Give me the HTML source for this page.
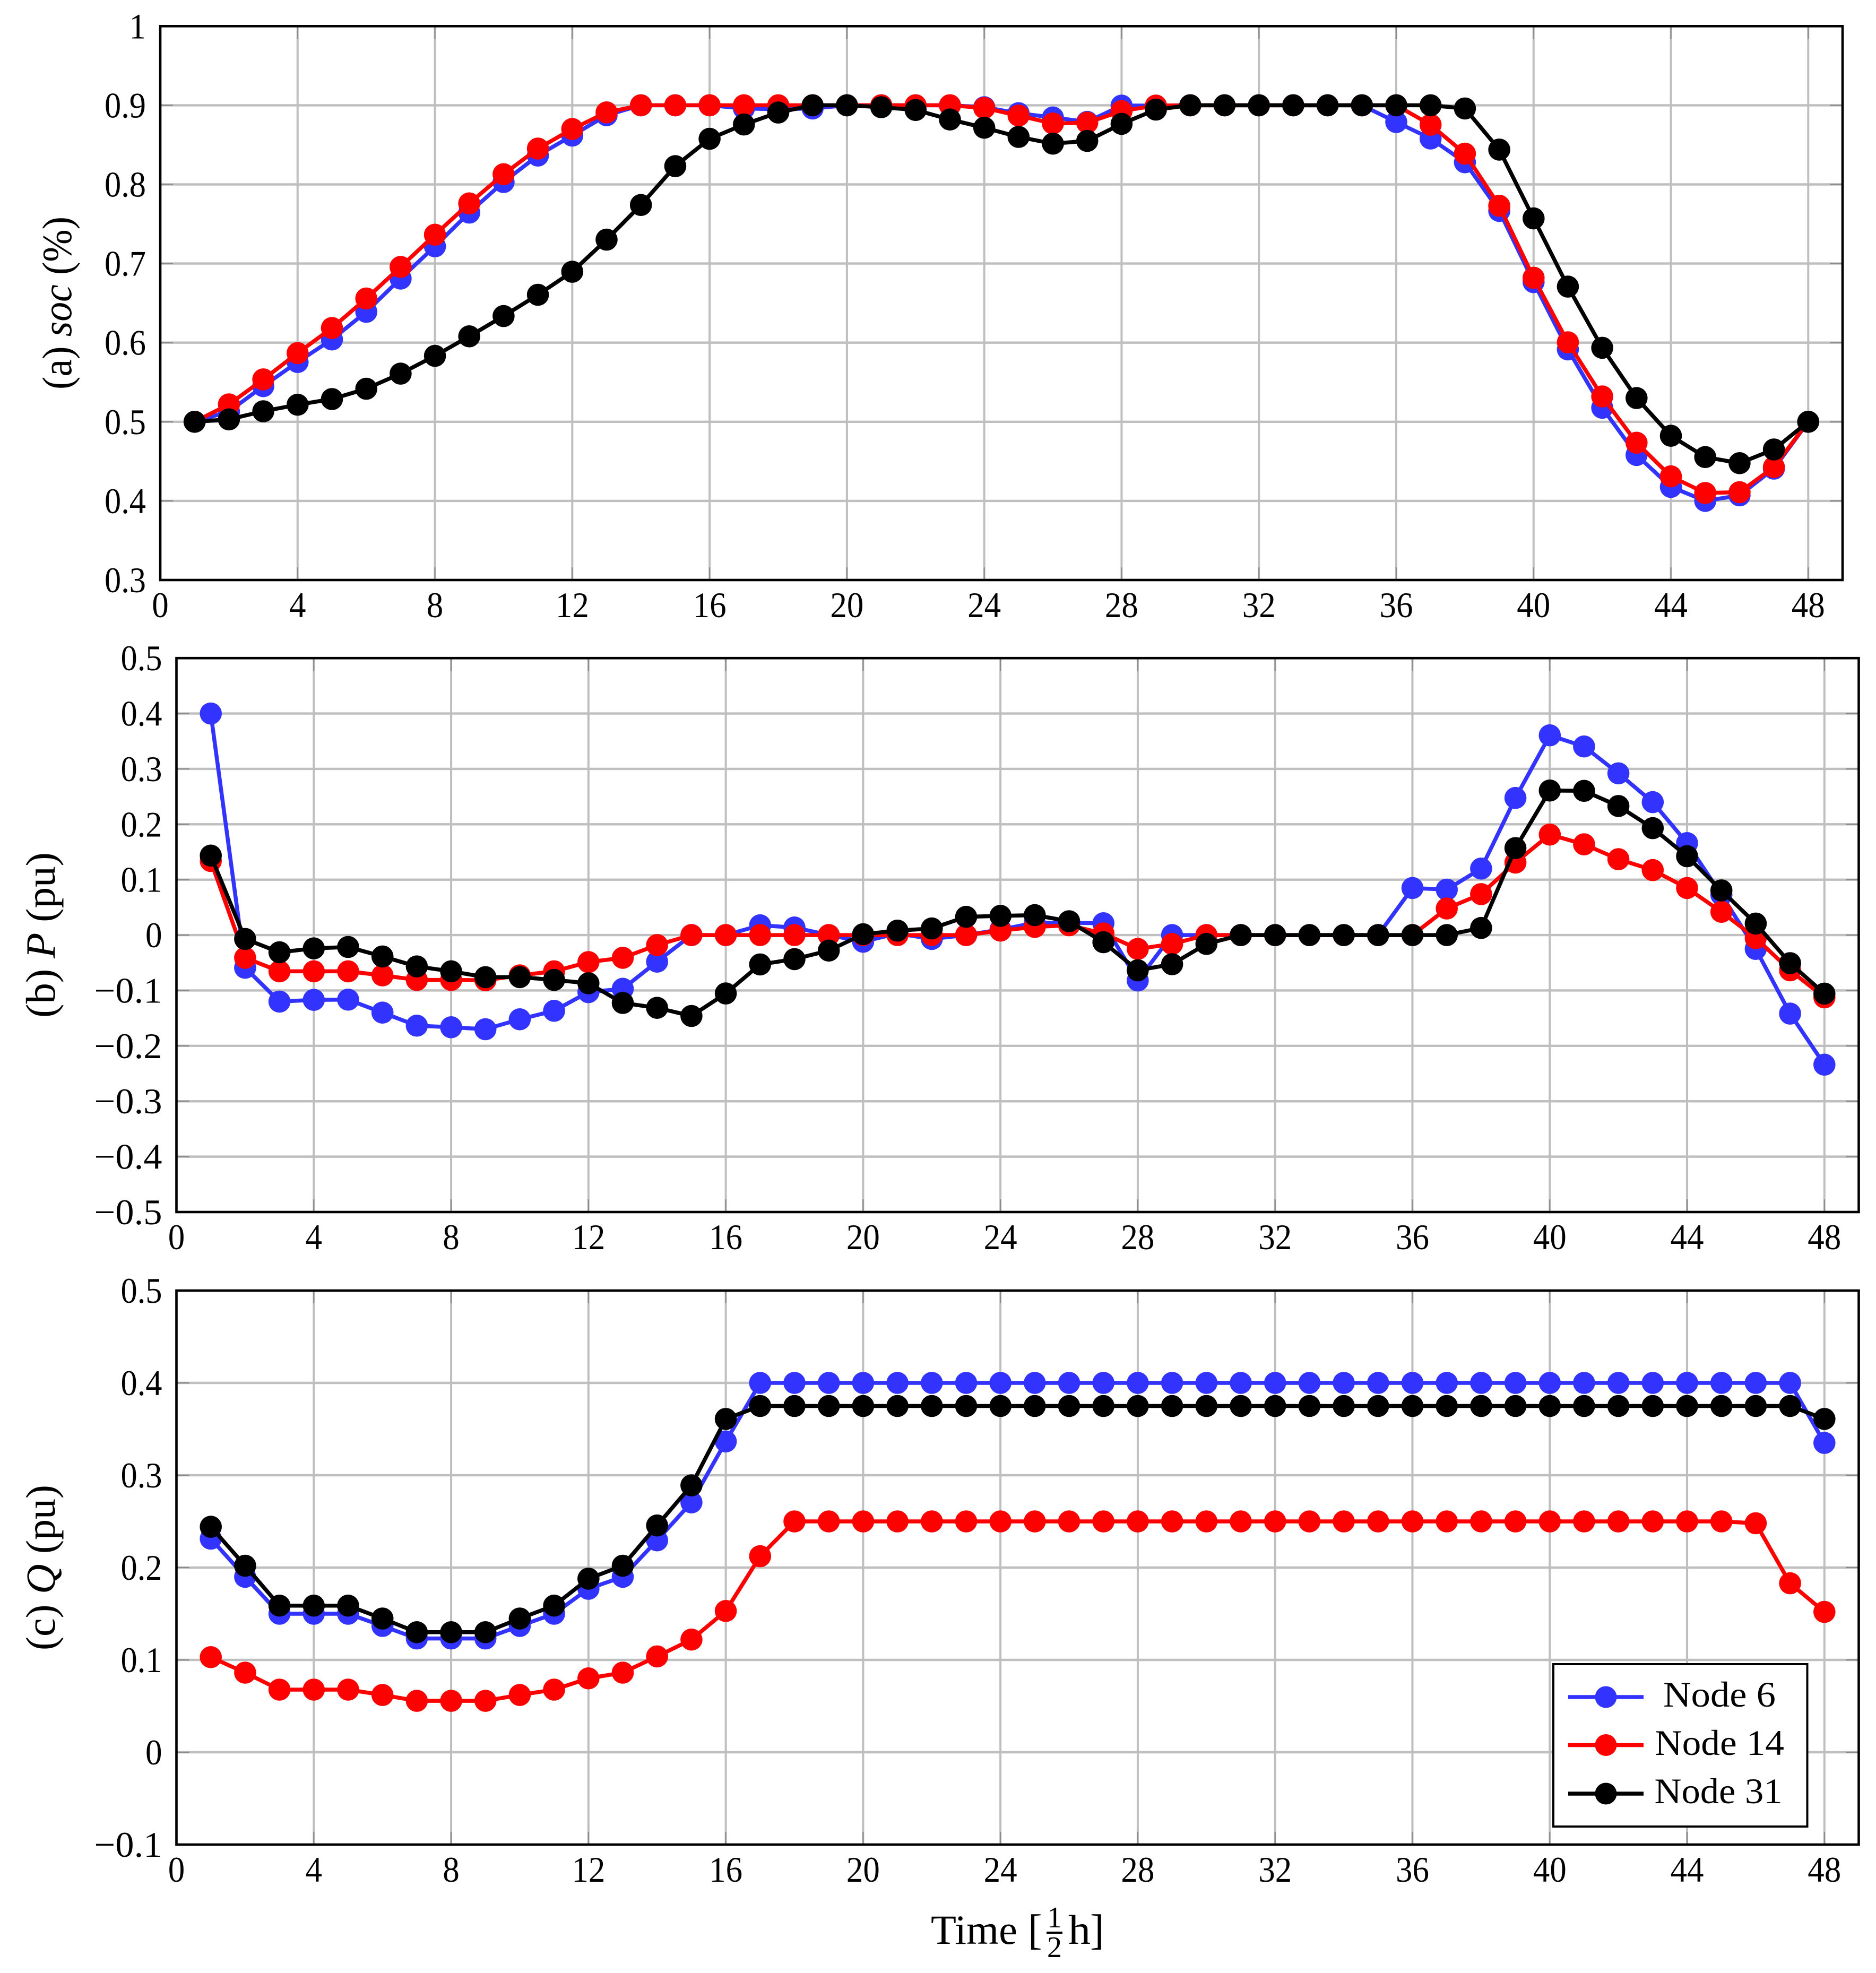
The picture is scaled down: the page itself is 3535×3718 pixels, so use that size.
<!DOCTYPE html>
<html lang="en">
<head>
<meta charset="utf-8">
<title>Node soc, P and Q over time</title>
<style>
html,body{margin:0;padding:0;background:#fff;width:3535px;height:3718px;overflow:hidden}
svg{display:block}
text{font-family:"Liberation Serif",serif;fill:#000}
</style>
</head>
<body>
<svg id="chart" xmlns="http://www.w3.org/2000/svg" width="3535" height="3718" viewBox="0 0 3535 3718">
  <rect x="0" y="0" width="3535" height="3718" fill="#fff"/>
  <g id="panels"></g>

  <text transform="translate(134 571) rotate(-90)" text-anchor="middle" font-size="78" textLength="326" lengthAdjust="spacingAndGlyphs">(a) <tspan font-style="italic">soc</tspan> (%)</text>
  <text transform="translate(103 1762) rotate(-90)" text-anchor="middle" font-size="78" textLength="312" lengthAdjust="spacingAndGlyphs">(b) <tspan font-style="italic">P</tspan> (pu)</text>
  <text transform="translate(103 2954) rotate(-90)" text-anchor="middle" font-size="78" textLength="312" lengthAdjust="spacingAndGlyphs">(c) <tspan font-style="italic">Q</tspan> (pu)</text>

  <g>
    <text x="1754" y="3663" font-size="78" textLength="163" lengthAdjust="spacingAndGlyphs">Time</text>
    <text x="1937" y="3663" font-size="80">[</text>
    <text x="1987" y="3632" font-size="56" text-anchor="middle">1</text>
    <rect x="1972" y="3640" width="30" height="4" fill="#000"/>
    <text x="1987" y="3688" font-size="56" text-anchor="middle">2</text>
    <text x="2013" y="3663" font-size="78" textLength="42" lengthAdjust="spacingAndGlyphs">h</text>
    <text x="2054" y="3663" font-size="80">]</text>
  </g>

  <g>
    <rect x="2927" y="3136" width="478.5" height="306" fill="#fff" stroke="#000" stroke-width="4"/>
    <g>
      <line x1="2955" y1="3198" x2="3097" y2="3198" stroke="#3333ff" stroke-width="7.5"/>
      <circle cx="3026" cy="3198" r="20.5" fill="#3333ff"/>
      <text x="3240" y="3216" font-size="68" text-anchor="middle" textLength="212" lengthAdjust="spacingAndGlyphs">Node 6</text>
    </g>
    <g>
      <line x1="2955" y1="3288.5" x2="3097" y2="3288.5" stroke="#ff0000" stroke-width="7.5"/>
      <circle cx="3026" cy="3288.5" r="20.5" fill="#ff0000"/>
      <text x="3240" y="3307" font-size="68" text-anchor="middle" textLength="244" lengthAdjust="spacingAndGlyphs">Node 14</text>
    </g>
    <g>
      <line x1="2955" y1="3380" x2="3097" y2="3380" stroke="#000" stroke-width="7.5"/>
      <circle cx="3026" cy="3380" r="20.5" fill="#000"/>
      <text x="3238" y="3398" font-size="68" text-anchor="middle" textLength="241" lengthAdjust="spacingAndGlyphs">Node 31</text>
    </g>
  </g>
</svg>

<script>
// x axis, shared by all panels
const timeSteps = [1,2,3,4,5,6,7,8,9,10,11,12,13,14,15,16,17,18,19,20,21,22,23,24,25,26,27,28,29,30,31,32,33,34,35,36,37,38,39,40,41,42,43,44,45,46,47,48];
const xTickValues = [0,4,8,12,16,20,24,28,32,36,40,44,48];
const xTickLabels = ["0","4","8","12","16","20","24","28","32","36","40","44","48"];

// panel (a) soc
const socTickValues = [0.3,0.4,0.5,0.6,0.7,0.8,0.9,1];
const socTickLabels = ["0.3","0.4","0.5","0.6","0.7","0.8","0.9","1"];
const socNode6 = [0.5,0.513,0.545,0.5755,0.604,0.639,0.681,0.7217,0.7644,0.803,0.8365,0.8617,0.8874,0.9,0.9,0.9,0.896,0.895,0.896,0.9,0.9,0.9,0.9,0.8975,0.89,0.8846,0.879,0.8996,0.8996,0.9,0.9,0.9,0.9,0.9,0.9,0.8788,0.858,0.828,0.7665,0.6765,0.5915,0.5177,0.458,0.4177,0.4,0.407,0.4408,0.5];
const socNode14 = [0.5,0.522,0.5536,0.5868,0.6185,0.6558,0.6957,0.7364,0.776,0.8129,0.8453,0.87,0.891,0.9,0.9,0.9,0.9,0.9,0.9,0.9,0.9,0.9,0.9,0.8966,0.887,0.877,0.878,0.8927,0.8996,0.9,0.9,0.9,0.9,0.9,0.9,0.9,0.8754,0.8388,0.773,0.682,0.6004,0.532,0.4735,0.431,0.41,0.411,0.4427,0.5];
const socNode31 = [0.5,0.503,0.5133,0.5215,0.5287,0.5417,0.5608,0.5833,0.608,0.6336,0.6605,0.6896,0.7302,0.774,0.8231,0.8576,0.8757,0.8908,0.9,0.9,0.8976,0.894,0.882,0.8716,0.86,0.8515,0.855,0.8765,0.8946,0.9,0.9,0.9,0.9,0.9,0.9,0.9,0.9,0.896,0.844,0.757,0.6708,0.5935,0.53,0.4823,0.4554,0.4477,0.465,0.5];

// panel (b) P
const pTickValues = [-0.5,-0.4,-0.3,-0.2,-0.1,0,0.1,0.2,0.3,0.4,0.5];
const pTickLabels = ["\u22120.5","\u22120.4","\u22120.3","\u22120.2","\u22120.1","0","0.1","0.2","0.3","0.4","0.5"];
const pNode6 = [0.4,-0.059,-0.12,-0.117,-0.1166,-0.14,-0.1635,-0.1664,-0.17,-0.152,-0.1367,-0.103,-0.097,-0.048,0,0,0.0176,0.0137,0,-0.012,0.003,-0.007,0,0.01,0.022,0.022,0.0214,-0.082,0,0,0,0,0,0,0,0.085,0.082,0.12,0.2476,0.3606,0.3405,0.292,0.24,0.166,0.0727,-0.025,-0.1418,-0.234];
const pNode14 = [0.1337,-0.041,-0.0654,-0.0654,-0.0654,-0.0727,-0.081,-0.081,-0.0815,-0.0727,-0.0654,-0.0488,-0.041,-0.018,0,0,0,0,0,0,0,0,0,0.008,0.0147,0.0177,0.003,-0.025,-0.016,0,0,0,0,0,0,0,0.048,0.074,0.131,0.1815,0.1638,0.137,0.1174,0.085,0.042,-0.0055,-0.0636,-0.1125];
const pNode31 = [0.1435,-0.007,-0.031,-0.024,-0.0215,-0.0386,-0.0566,-0.0654,-0.076,-0.076,-0.081,-0.087,-0.1225,-0.1313,-0.146,-0.1054,-0.053,-0.0434,-0.028,0.0015,0.008,0.012,0.033,0.0347,0.036,0.025,-0.0128,-0.0636,-0.0526,-0.016,0,0,0,0,0,0,0,0.0128,0.157,0.261,0.2604,0.233,0.193,0.1424,0.0807,0.0208,-0.0507,-0.1057];

// panel (c) Q
const qTickValues = [-0.1,0,0.1,0.2,0.3,0.4,0.5];
const qTickLabels = ["\u22120.1","0","0.1","0.2","0.3","0.4","0.5"];
const qNode6 = [0.2313,0.19,0.15,0.15,0.15,0.1368,0.1232,0.1232,0.1232,0.1368,0.15,0.177,0.19,0.2295,0.2706,0.3366,0.4,0.4,0.4,0.4,0.4,0.4,0.4,0.4,0.4,0.4,0.4,0.4,0.4,0.4,0.4,0.4,0.4,0.4,0.4,0.4,0.4,0.4,0.4,0.4,0.4,0.4,0.4,0.4,0.4,0.4,0.4,0.335];
const qNode14 = [0.103,0.0862,0.0678,0.0678,0.0678,0.062,0.0557,0.0557,0.0557,0.062,0.0678,0.08,0.0862,0.1038,0.122,0.153,0.2123,0.25,0.25,0.25,0.25,0.25,0.25,0.25,0.25,0.25,0.25,0.25,0.25,0.25,0.25,0.25,0.25,0.25,0.25,0.25,0.25,0.25,0.25,0.25,0.25,0.25,0.25,0.25,0.25,0.248,0.183,0.152];
const qNode31 = [0.2442,0.202,0.1588,0.1588,0.1588,0.1448,0.13,0.13,0.13,0.1448,0.1588,0.188,0.202,0.2456,0.289,0.361,0.375,0.375,0.375,0.375,0.375,0.375,0.375,0.375,0.375,0.375,0.375,0.375,0.375,0.375,0.375,0.375,0.375,0.375,0.375,0.375,0.375,0.375,0.375,0.375,0.375,0.375,0.375,0.375,0.375,0.375,0.375,0.361];

const seriesNames = ["node-6","node-14","node-31"];
const seriesColors = ["#3333ff","#ff0000","#000000"];

const SVG_NS = "http://www.w3.org/2000/svg";
const root = document.getElementById("panels");

function make(tag, attrs, parent) {
  const node = document.createElementNS(SVG_NS, tag);
  for (const key in attrs) node.setAttribute(key, attrs[key]);
  parent.appendChild(node);
  return node;
}

function labelWidth(str) {
  let w = 0;
  for (const ch of str) w += ch === "." ? 15 : ch === "\u2212" ? 50 : 31.5;
  return w;
}

function drawPanel(name, box, yMin, yMax, yTickValues, yTickLabels, seriesList) {
  const xScale = v => box.left + (v - 0) / 49 * (box.right - box.left);
  const yScale = v => box.bottom - (v - yMin) / (yMax - yMin) * (box.bottom - box.top);

  const panel = make("g", {}, root);
  
  

  xTickValues.forEach(v => {
    if (v === 0) return;
    const g = make("line", {x1: xScale(v), x2: xScale(v), y1: box.top, y2: box.bottom, stroke: "#bfbfbf", "stroke-width": 4}, panel);
    
    
  });
  yTickValues.forEach(v => {
    if (v === yMin || v === yMax) return;
    const g = make("line", {x1: box.left, x2: box.right, y1: yScale(v), y2: yScale(v), stroke: "#bfbfbf", "stroke-width": 4.4}, panel);
    
    
  });

  xTickValues.forEach(v => {
    if (v === 0) return;
    [[box.top, box.top + 24], [box.bottom, box.bottom - 24]].forEach(e => {
      const t = make("line", {x1: xScale(v), x2: xScale(v), y1: e[0], y2: e[1], stroke: "#8a8a8a", "stroke-width": 2.2}, panel);
      
      
    });
  });
  yTickValues.forEach(v => {
    if (v === yMin || v === yMax) return;
    [[box.left, box.left + 24], [box.right, box.right - 24]].forEach(e => {
      const t = make("line", {x1: e[0], x2: e[1], y1: yScale(v), y2: yScale(v), stroke: "#8a8a8a", "stroke-width": 2.2}, panel);
      
      
    });
  });

  seriesList.forEach((values, i) => {
    const path = make("polyline", {
      points: values.map((v, k) => xScale(timeSteps[k]).toFixed(1) + "," + yScale(v).toFixed(1)).join(" "),
      fill: "none", stroke: seriesColors[i], "stroke-width": 7.5, "stroke-linejoin": "round"
    }, panel);
    
    
    values.forEach((v, k) => {
      const c = make("circle", {cx: xScale(timeSteps[k]).toFixed(1), cy: yScale(v).toFixed(1), r: 20.8, fill: seriesColors[i]}, panel);
      
      
    });
  });

  const frame = make("rect", {x: box.left, y: box.top, width: box.right - box.left, height: box.bottom - box.top, fill: "none", stroke: "#000", "stroke-width": 4.6}, panel);
  
  

  xTickValues.forEach((v, i) => {
    const t = make("text", {x: xScale(v), y: box.bottom + 70, "font-size": 68, "text-anchor": "middle", textLength: labelWidth(xTickLabels[i]), lengthAdjust: "spacingAndGlyphs"}, panel);
    t.textContent = xTickLabels[i];
    
    
  });
  yTickValues.forEach((v, i) => {
    const t = make("text", {x: box.left - 27, y: yScale(v) + 23, "font-size": 68, "text-anchor": "end", textLength: labelWidth(yTickLabels[i]), lengthAdjust: "spacingAndGlyphs"}, panel);
    t.textContent = yTickLabels[i];
    
    
  });
}

drawPanel("panel-a-soc", {left: 302, right: 3472, top: 49.3, bottom: 1093}, 0.3, 1, socTickValues, socTickLabels, [socNode6, socNode14, socNode31]);
drawPanel("panel-b-p", {left: 332.5, right: 3502.5, top: 1240.2, bottom: 2284}, -0.5, 0.5, pTickValues, pTickLabels, [pNode6, pNode14, pNode31]);
drawPanel("panel-c-q", {left: 332.5, right: 3502.5, top: 2432, bottom: 3476}, -0.1, 0.5, qTickValues, qTickLabels, [qNode6, qNode14, qNode31]);
</script>
</body>
</html>
